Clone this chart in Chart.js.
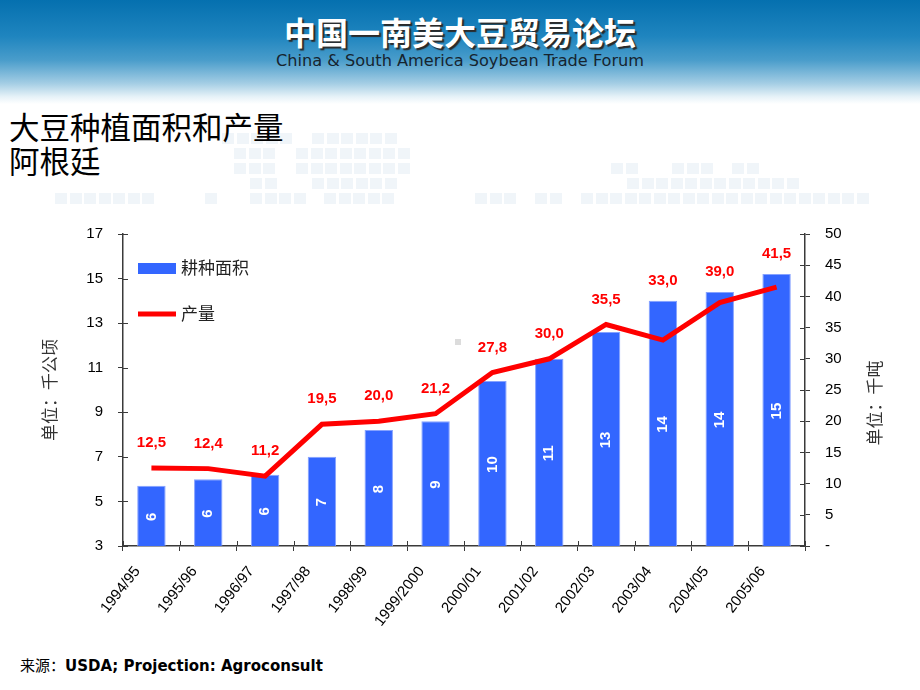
<!DOCTYPE html>
<html>
<head>
<meta charset="utf-8">
<script src="https://cdn.jsdelivr.net/npm/chart.js@4.4.1/dist/chart.umd.min.js"></script>
<style>
  html, body { margin: 0; padding: 0; background: #fff; }
  body { width: 920px; height: 690px; position: relative; overflow: hidden; }
  #banner {
    position: absolute; left: 0; top: 0; width: 920px; height: 104px;
    background: linear-gradient(to bottom, #0570af 0%, #1f85bf 35%, #4a9dcb 58%, #a3cde4 80%, #e6f2f8 93%, #ffffff 100%);
  }
  #banner .cn {
    position: absolute; left: 0; top: 12px; width: 920px; text-align: center;
    font: bold 32px/38px "Noto Sans CJK SC", sans-serif; color: #fff;
    text-shadow: 2px 2px 1px #2a2a2a;
  }
  #banner .en {
    position: absolute; left: 0; top: 51px; width: 920px; text-align: center;
    font: 16px/20px "DejaVu Sans Condensed", "DejaVu Sans", sans-serif; color: #16242f;
  }
  #deco { position: absolute; left: 0; top: 0; }
  #deco span { position: absolute; width: 12px; height: 11px; background: #f0f5f9; }
  #title {
    position: absolute; left: 9px; top: 109px;
    font: 30.5px/34px "Noto Sans CJK SC", sans-serif; color: #000;
  }
  #chartBox { position: absolute; left: 0; top: 210px; width: 920px; height: 440px; }
  #dot { position: absolute; left: 455px; top: 339px; width: 6px; height: 6px; background: #dcdcdc; }
  #source {
    position: absolute; left: 20px; top: 654px;
    font: 15px/22px "Noto Sans CJK SC", sans-serif; color: #000;
  }
  #source b { font: bold 15px "DejaVu Sans", sans-serif; }
</style>
</head>
<body>
<div id="banner">
  <div class="cn">中国一南美大豆贸易论坛</div>
  <div class="en">China &amp; South America Soybean Trade Forum</div>
</div>
<div id="deco"></div>
<div id="title">大豆种植面积和产量<br>阿根廷</div>
<div id="dot"></div>
<div id="chartBox"><canvas id="chart"></canvas></div>
<div id="source">来源：<b>USDA; Projection: Agroconsult</b></div>

<script>
// Chart data
const seasons = ['1994/95', '1995/96', '1996/97', '1997/98', '1998/99', '1999/2000',
                 '2000/01', '2001/02', '2002/03', '2003/04', '2004/05', '2005/06'];
const areaValues = [5.7, 6.0, 6.2, 7.0, 8.2, 8.6, 10.4, 11.4, 12.6, 14.0, 14.4, 15.2];        // 千公顷
const productionValues = [12.5, 12.4, 11.2, 19.5, 20.0, 21.2, 27.8, 30.0, 35.5, 33.0, 39.0, 41.5]; // 千吨
const areaLabel = '耕种面积';
const productionLabel = '产量';
const leftAxisTitle = '单位：千公顷';
const rightAxisTitle = '单位：千吨';

// faint background squares behind the title (decoration only)
const decoRows = [
    [133, [[222, 294], [312, 400]]],
    [148, [[234, 278], [296, 413]]],
    [163, [[234, 278], [296, 413], [611, 640], [672, 714], [732, 760]]],
    [178, [[250, 278], [312, 400], [627, 803]]],
    [193, [[55, 157], [205, 218], [250, 310], [324, 400], [475, 526], [535, 562], [581, 879]]]
];
const deco = document.getElementById('deco');
decoRows.forEach(([y, runs]) => {
    runs.forEach(([x0, x1]) => {
        for (let x = x0; x + 10 <= x1; x += 14.5) {
            const s = document.createElement('span');
            s.style.left = x + 'px';
            s.style.top = y + 'px';
            deco.appendChild(s);
        }
    });
});

// squeeze the english subtitle to the width it has in the slide
const en = document.querySelector('#banner .en');
const enRange = document.createRange();
enRange.selectNodeContents(en);
const enWidth = enRange.getBoundingClientRect().width;
en.style.transform = `scaleX(${368 / enWidth})`;

const tickFont = { family: '"Liberation Sans", Arial, sans-serif', size: 15 };
const axisColor = '#3a3a3a';

const overlayPlugin = {
    id: 'overlay',
    afterDatasetsDraw(chart) {
        const ctx = chart.ctx;
        const area = chart.chartArea;
        const bars = chart.getDatasetMeta(0).data;
        const points = chart.getDatasetMeta(1).data;
        ctx.save();
        ctx.font = 'bold 15px "Liberation Sans", Arial, sans-serif';
        ctx.textAlign = 'center';
        ctx.textBaseline = 'middle';

        // rounded area values, written upright inside the bars
        ctx.fillStyle = '#ffffff';
        bars.forEach((bar, i) => {
            const cy = (Math.max(bar.y, area.top) + area.bottom) / 2;
            ctx.save();
            ctx.translate(bar.x, cy + 1);
            ctx.rotate(-Math.PI / 2);
            ctx.fillText(String(Math.round(areaValues[i])), 0, 0);
            ctx.restore();
        });

        // production values above the line, kept clear of the bar tops
        ctx.fillStyle = '#ff0000';
        points.forEach((pt, i) => {
            const y = Math.min(pt.y - 25, bars[i].y - 20);
            ctx.fillText(productionValues[i].toFixed(1).replace('.', ','), pt.x, y);
        });
        ctx.restore();
    },
    afterDraw(chart) {
        const ctx = chart.ctx;
        const area = chart.chartArea;
        const { x, y, y1 } = chart.scales;
        ctx.save();

        // inner half of the cross ticks
        ctx.strokeStyle = axisColor;
        ctx.lineWidth = 1;
        ctx.beginPath();
        y.ticks.forEach(t => {
            const py = Math.round(y.getPixelForValue(t.value)) + 0.5;
            ctx.moveTo(area.left, py); ctx.lineTo(area.left + 5, py);
        });
        y1.ticks.forEach(t => {
            const py = Math.round(y1.getPixelForValue(t.value)) + 0.5;
            ctx.moveTo(area.right - 5, py); ctx.lineTo(area.right, py);
        });
        const step = (area.right - area.left) / seasons.length;
        for (let i = 0; i <= seasons.length; i++) {
            const px = Math.round(area.left + i * step) + 0.5;
            ctx.moveTo(px, area.bottom - 5); ctx.lineTo(px, area.bottom);
        }
        ctx.stroke();

        // legend inside the plot
        const lx = area.left + 15;
        ctx.fillStyle = chart.data.datasets[0].backgroundColor;
        ctx.fillRect(lx, area.top + 29, 38, 11);
        ctx.strokeStyle = chart.data.datasets[1].borderColor;
        ctx.lineWidth = 5;
        ctx.beginPath();
        ctx.moveTo(lx, area.top + 80); ctx.lineTo(lx + 38, area.top + 80);
        ctx.stroke();
        ctx.fillStyle = '#222';
        ctx.font = '17px "Noto Sans CJK SC", sans-serif';
        ctx.textAlign = 'left';
        ctx.textBaseline = 'middle';
        ctx.fillText(chart.data.datasets[0].label, lx + 43, area.top + 34);
        ctx.fillText(chart.data.datasets[1].label, lx + 43, area.top + 80);

        // axis titles, both read bottom to top
        ctx.fillStyle = '#333';
        ctx.textAlign = 'center';
        [[leftAxisTitle, 50, 180], [rightAxisTitle, 875, 193]].forEach(([text, tx, ty]) => {
            ctx.save();
            ctx.translate(tx, ty);
            ctx.rotate(-Math.PI / 2);
            ctx.fillText(text, 0, 0);
            ctx.restore();
        });
        ctx.restore();
    }
};

new Chart(document.getElementById('chart'), {
    type: 'bar',
    data: {
        labels: seasons,
        datasets: [{
            type: 'bar',
            label: areaLabel,
            data: areaValues,
            yAxisID: 'y',
            backgroundColor: '#3366ff',
            borderColor: '#86a2ff',
            borderWidth: 1,
            barPercentage: 0.5,
            categoryPercentage: 1,
            order: 2
        }, {
            type: 'line',
            label: productionLabel,
            data: productionValues,
            yAxisID: 'y1',
            borderColor: '#ff0000',
            borderWidth: 5,
            pointRadius: 0,
            tension: 0,
            fill: false,
            order: 1
        }]
    },
    options: {
        responsive: true,
        maintainAspectRatio: false,
        animation: false,
        layout: { padding: { top: 21, left: 0, right: 0, bottom: 0 } },
        plugins: { legend: { display: false }, tooltip: { enabled: false } },
        scales: {
            x: {
                grid: { drawOnChartArea: false, drawTicks: true, tickLength: 5, color: axisColor, offset: true },
                border: { color: axisColor, width: 1.5 },
                ticks: {
                    autoSkip: false, maxRotation: 52, minRotation: 52,
                    labelOffset: -14, padding: 12,
                    color: '#000', font: tickFont
                },
                afterFit: s => { s.height = 104; }
            },
            y: {
                position: 'left',
                min: 3, max: 17,
                grid: { drawOnChartArea: false, drawTicks: true, tickLength: 5, color: axisColor },
                border: { color: axisColor, width: 1.5 },
                ticks: { stepSize: 2, padding: 15, color: '#000', font: tickFont },
                afterFit: s => { s.width = 123; }
            },
            y1: {
                position: 'right',
                min: 0, max: 50,
                grid: { drawOnChartArea: false, drawTicks: true, tickLength: 5, color: axisColor },
                border: { color: axisColor, width: 1.5 },
                ticks: {
                    stepSize: 5, padding: 15, color: '#000', font: tickFont,
                    callback: v => (v === 0 ? '-' : v)
                },
                afterFit: s => { s.width = 115; }
            }
        }
    },
    plugins: [overlayPlugin]
});
</script>
</body>
</html>
